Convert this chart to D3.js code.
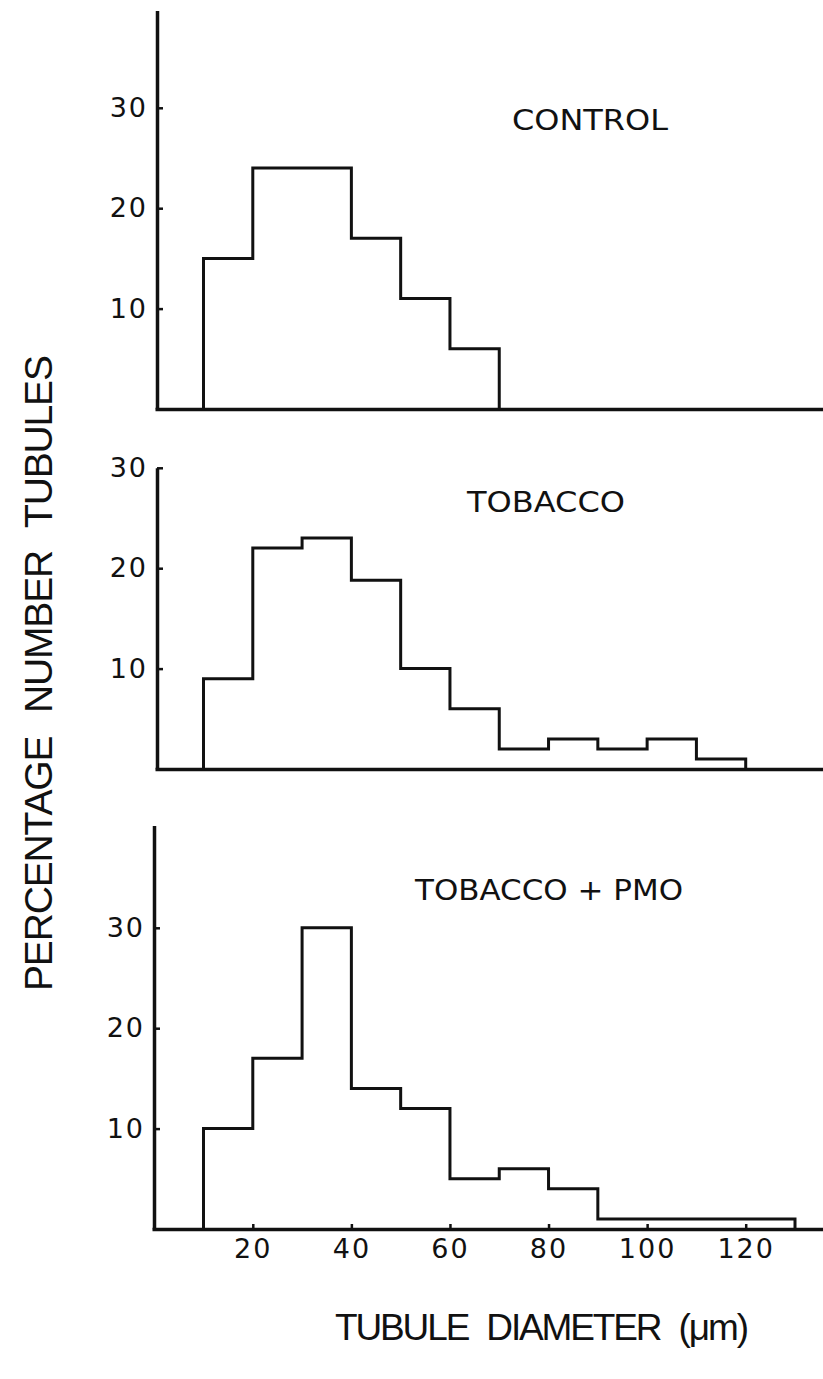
<!DOCTYPE html>
<html>
<head>
<meta charset="utf-8">
<script src="https://cdn.jsdelivr.net/npm/d3@7/dist/d3.min.js"></script>
<style>
  body { margin: 0; background: #fff; }
  svg text { fill: #111; }
</style>
</head>
<body>
<div id="chart-area"></div>
<script>
// Tubule diameter histograms, three treatments

var width = 823, height = 1379;

// Data: percentage of tubules per 10 um bin, bins start at these diameters
var binWidth = 10;
var controlBins = [10, 20, 30, 40, 50, 60];
var controlValues = [15, 24, 24, 17, 11, 6];
var tobaccoBins = [10, 20, 30, 40, 50, 60, 70, 80, 90, 100, 110];
var tobaccoValues = [9, 22, 23, 18.8, 10, 6, 2, 3, 2, 3, 1];
var pmoBins = [10, 20, 30, 40, 50, 60, 70, 80, 90, 100, 110, 120];
var pmoValues = [10, 17, 30, 14, 12, 5, 6, 4, 1, 1, 1, 1];

var panelNames = ["CONTROL", "TOBACCO", "TOBACCO + PMO"];
var yTicks = [10, 20, 30];
var xTicks = [20, 40, 60, 80, 100, 120];

var panels = [
    { name: panelNames[0], bins: controlBins, values: controlValues,
      axisX: 157, base: 409, yTop: 39.7, label: { x: 590, y: 130, len: 156 } },
    { name: panelNames[1], bins: tobaccoBins, values: tobaccoValues,
      axisX: 157, base: 769, yTop: 30, label: { x: 546, y: 512, len: 158 } },
    { name: panelNames[2], bins: pmoBins, values: pmoValues,
      axisX: 154, base: 1229, yTop: 40.2, label: { x: 549, y: 900, len: 268 }, xAxis: true }
];

var pxPerUnit = 10.04;
var digitFont = "'DejaVu Sans', sans-serif";
var titleFont = "'Liberation Sans Narrow', 'Liberation Sans', sans-serif";

var svg = d3.select("#chart-area")
    .append("svg")
        .attr("width", width)
        .attr("height", height);

// shared x scale (um -> px)
var x = d3.scaleLinear()
    .domain([10, 130])
    .range([203.5, 795]);

panels.forEach(function(p) {
    var g = svg.append("g");

    var y = d3.scaleLinear()
        .domain([0, p.yTop])
        .range([p.base, p.base - p.yTop * pxPerUnit]);

    // Y axis, ticks pointing inward
    var yAxis = g.append("g")
        .attr("transform", "translate(" + p.axisX + ",0)")
        .call(d3.axisLeft(y)
            .tickValues(yTicks)
            .tickSizeInner(-6)
            .tickSizeOuter(0)
            .tickPadding(9)
            .tickFormat(d3.format("d")));
    yAxis.select(".domain").attr("stroke", "#111").attr("stroke-width", 3.5);
    yAxis.selectAll(".tick line").attr("stroke", "#111").attr("stroke-width", 2.5);
    yAxis.selectAll(".tick text")
        .attr("font-family", digitFont)
        .attr("font-size", 27)
        .attr("letter-spacing", 2)
        .attr("fill", "#111");

    // baseline running to the right edge
    var xp = d3.scaleLinear().domain(x.domain()).range(x.range());
    var xAxis = g.append("g")
        .attr("transform", "translate(0," + p.base + ")")
        .call(d3.axisBottom(d3.scaleLinear()
                .domain([x.invert(p.axisX - 2), x.invert(width)])
                .range([p.axisX - 2, width]))
            .tickValues(p.xAxis ? xTicks : [])
            .tickSizeInner(-5)
            .tickSizeOuter(0)
            .tickPadding(10));
    xAxis.select(".domain").attr("stroke", "#111").attr("stroke-width", 3.5);
    xAxis.selectAll(".tick line").attr("stroke", "#111").attr("stroke-width", 2.5);
    xAxis.selectAll(".tick text")
        .attr("font-family", digitFont)
        .attr("font-size", 27)
        .attr("letter-spacing", 2)
        .attr("fill", "#111");

    // histogram outline
    var pts = [[p.bins[0], 0]];
    p.bins.forEach(function(b, i) { pts.push([b, p.values[i]]); });
    pts.push([p.bins[p.bins.length - 1] + binWidth, 0]);

    var line = d3.line()
        .x(function(d) { return xp(d[0]); })
        .y(function(d) { return y(d[1]); })
        .curve(d3.curveStepAfter);

    g.append("path")
        .datum(pts)
        .attr("d", line)
        .attr("fill", "none")
        .attr("stroke", "#111")
        .attr("stroke-width", 3)
        .attr("stroke-linejoin", "miter");

    // panel label
    g.append("text")
        .attr("x", p.label.x)
        .attr("y", p.label.y)
        .attr("text-anchor", "middle")
        .attr("font-family", digitFont)
        .attr("font-size", 29)
        .attr("textLength", p.label.len)
        .attr("lengthAdjust", "spacingAndGlyphs")
        .text(p.name);
});

// Axis titles
svg.append("text")
    .attr("transform", "translate(52,673) rotate(-90)")
    .attr("text-anchor", "middle")
    .attr("font-family", titleFont)
    .attr("font-size", 39)
    .attr("textLength", 636)
    .attr("lengthAdjust", "spacing")
    .style("word-spacing", "14px")
    .text("PERCENTAGE NUMBER TUBULES");

svg.append("text")
    .attr("x", 542)
    .attr("y", 1340)
    .attr("text-anchor", "middle")
    .attr("font-family", titleFont)
    .attr("font-size", 37)
    .attr("textLength", 414)
    .attr("lengthAdjust", "spacing")
    .style("word-spacing", "10px")
    .text("TUBULE DIAMETER (μm)");
</script>
</body>
</html>
